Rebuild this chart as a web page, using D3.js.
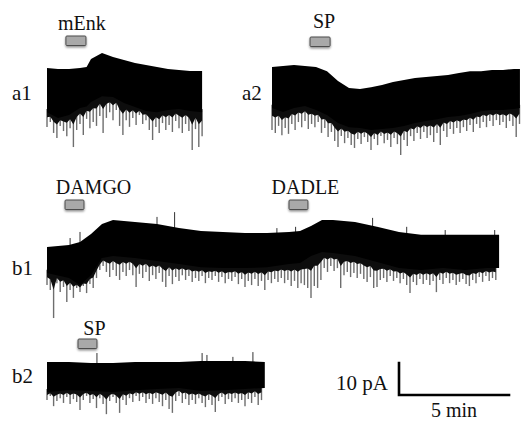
<!DOCTYPE html>
<html>
<head>
<meta charset="utf-8">
<script src="https://cdn.jsdelivr.net/npm/d3@7"></script>
<style>
  body { margin: 0; background: #fff; }
</style>
</head>
<body>
<svg id="fig" width="524" height="423"></svg>
<script>
// all currents in pA (0 = top of trace at its start), all times in min
let spikeStep = 0.15 // min between sampled spike minima

// a1: mEnk
let a1Time = [0, 0.5, 1, 1.5, 1.8, 2, 2.5, 3, 3.5, 4, 4.5, 5, 5.5, 6, 6.5, 7.05]
let a1Top = [0, -0.3, -0.3, 0, 0.3, 2.8, 4.7, 3.4, 2.5, 1.6, 0.9, 0.3, -0.3, -0.6, -0.9, -0.9]
let a1Low = [-13.8, -15.6, -14.7, -12.5, -12.0, -10.6, -8.8, -9.1, -10.9, -12.2, -13.4, -13.8, -13.1, -12.8, -13.4, -13.8]
let a1Spikes = [-18.4, -16.9, -20.3, -21.9, -18.1, -19.7, -21.3, -18.8, -24.7, -19.4,
  -17.5, -20.9, -15.9, -18.8, -16.9, -18.1, -15.0, -20.3, -15.6, -13.8,
  -16.3, -13.1, -18.1, -20.9, -16.3, -18.4, -15.6, -17.8, -14.7, -17.5,
  -16.3, -19.4, -22.5, -18.4, -20.3, -17.2, -19.4, -17.8, -20.0, -16.6,
  -18.8, -20.3, -17.5, -19.7, -25.6, -19.1, -24.7, -21.3]
let a1Drugs = [{name: 'mEnk', start: 0.86, end: 1.77}]

// a2: SP
let a2Time = [0, 0.5, 1, 1.5, 2, 2.5, 3, 3.5, 4, 4.5, 5, 5.5, 6, 6.5, 7, 7.5, 8, 8.5, 9, 9.5, 10, 10.5, 11, 11.27]
let a2Top = [0, 0.3, 0.6, 0.3, 0, -1.3, -4.4, -6.6, -6.9, -6.3, -5.6, -4.7, -4.1, -3.4, -3.1, -2.8, -2.5, -1.9, -1.3, -1.3, -0.9, -0.9, -0.6, -0.6]
let a2Low = [-12.8, -14.1, -12.8, -12.2, -13.4, -15.0, -17.5, -18.8, -19.1, -19.7, -19.4, -19.1, -18.4, -17.5, -16.9, -16.3, -15.6, -15.3, -14.7, -13.8, -13.4, -13.4, -13.1, -12.8]
let a2Spikes = [-19.7, -20.6, -18.4, -21.3, -19.1, -20.9, -17.8, -19.7, -17.2, -18.8,
  -16.9, -19.4, -17.8, -18.8, -17.2, -20.6, -19.1, -21.9, -20.3, -23.1,
  -25.0, -21.6, -23.8, -22.2, -24.4, -25.3, -22.5, -24.1, -21.9, -23.4,
  -25.9, -22.5, -24.4, -21.6, -23.8, -22.8, -25.0, -22.2, -24.1, -27.5,
  -22.8, -24.7, -21.6, -23.1, -20.6, -22.5, -20.3, -22.2, -21.3, -23.4,
  -20.6, -24.4, -20.0, -21.9, -19.4, -20.9, -19.1, -20.6, -18.8, -20.0,
  -18.1, -20.3, -17.8, -19.1, -17.2, -18.8, -16.9, -18.4, -16.6, -18.1,
  -17.2, -19.1, -16.9, -18.4, -21.9, -17.8]
let a2Drugs = [{name: 'SP', start: 1.73, end: 2.64}]

// b1: DAMGO then DADLE
let b1Time = [0, 1, 1.5, 2, 2.5, 3, 4, 5, 6, 7, 8, 9, 10, 11, 11.5, 12, 12.5, 13, 14, 15, 16, 17, 18, 19, 20, 20.55]
let b1Top = [0, 0.6, 1.6, 4.1, 7.2, 8.4, 7.8, 7.2, 5.9, 5.0, 4.7, 4.4, 4.4, 4.7, 5.0, 6.6, 8.4, 8.4, 7.8, 6.3, 4.7, 3.8, 3.8, 3.8, 3.8, 3.8]
let b1Low = [-8.1, -9.7, -11.9, -8.8, -3.4, -2.8, -3.4, -4.4, -5.3, -6.3, -6.6, -6.6, -6.3, -5.3, -5.0, -2.8, -1.6, -1.9, -2.8, -4.7, -6.6, -7.2, -6.6, -7.2, -6.6, -6.6]
let b1Spikes = [-11.9, -13.4, -22.2, -11.3, -14.1, -12.5, -17.2, -13.4, -15.9, -12.8,
  -14.1, -12.2, -14.4, -11.6, -12.8, -9.7, -7.2, -5.9, -7.8, -9.4,
  -7.2, -9.1, -10.3, -7.8, -9.1, -7.2, -8.8, -12.5, -8.4, -9.7,
  -7.8, -10.6, -8.8, -10.0, -8.1, -10.9, -12.5, -9.1, -11.6, -9.4,
  -10.6, -8.8, -10.3, -9.1, -10.9, -9.7, -10.6, -9.1, -11.3, -9.7,
  -10.3, -9.1, -10.9, -9.4, -11.3, -10.0, -10.6, -9.4, -11.6, -10.0,
  -12.5, -10.6, -11.9, -10.0, -12.2, -10.6, -13.4, -10.3, -11.3, -10.0,
  -10.9, -9.7, -11.3, -10.3, -12.2, -10.6, -12.8, -11.3, -11.9, -12.8,
  -15.9, -12.2, -12.8, -10.3, -6.6, -7.8, -5.9, -7.5, -6.6, -12.8,
  -8.8, -7.8, -9.4, -8.1, -9.7, -8.4, -10.0, -10.9, -9.4, -12.8,
  -12.5, -10.3, -9.7, -10.9, -9.1, -10.6, -9.7, -11.3, -10.0, -11.9,
  -14.4, -10.9, -11.9, -10.0, -11.6, -10.3, -11.9, -10.6, -14.1, -10.3,
  -11.6, -9.7, -11.3, -10.3, -11.9, -10.9, -10.0, -11.6, -12.2, -10.3,
  -11.3, -9.4, -10.9, -9.1, -10.6, -9.7, -10.3]
let b1UpTime = [1.05, 1.5, 5.0, 5.8, 10.45, 11.3, 14.8, 16.35, 18.1, 20.35]
let b1UpPeak = [2.8, 4.7, 9.4, 10.9, 5.9, 6.3, 9.1, 6.3, 5.3, 5.3]
let b1Drugs = [{name: 'DAMGO', start: 0.82, end: 1.68}, {name: 'DADLE', start: 11.0, end: 11.86}]

// b2: SP
let b2Time = [0, 1, 2, 3, 4, 5, 6, 7, 8, 9, 9.9]
let b2Top = [0, 0, -0.3, -0.3, 0, 0, 0, 0.3, 0.3, 0.3, 0]
let b2Low = [-9.4, -8.8, -9.1, -9.4, -8.8, -8.4, -8.1, -9.1, -8.8, -8.4, -8.1]
let b2Spikes = [-11.9, -10.6, -13.8, -12.2, -11.3, -12.8, -10.9, -13.1, -11.6, -12.5,
  -15.0, -11.9, -10.6, -12.8, -11.6, -14.4, -11.3, -13.1, -16.3, -12.2,
  -10.9, -12.8, -15.9, -11.9, -13.4, -11.3, -12.5, -10.6, -12.2, -10.9,
  -12.8, -11.6, -13.1, -11.3, -12.5, -13.8, -11.9, -14.7, -15.9, -12.2,
  -10.6, -12.8, -11.6, -13.4, -11.9, -13.1, -11.3, -12.8, -14.1, -11.9,
  -13.4, -15.6, -12.2, -10.9, -13.1, -11.6, -12.5, -11.3, -12.8, -11.9,
  -13.8, -11.6, -12.8, -10.9, -13.4, -11.9]
let b2UpTime = [2.27, 7.05, 7.27, 8.45, 9.36]
let b2UpPeak = [2.8, 2.8, 2.2, 1.6, 3.1]
let b2Drugs = [{name: 'SP', start: 1.41, end: 2.27}]

// scale bar
let barPA = 10
let barMin = 5

// layout
let pxPerMin = 22
let pxPerPA = 3.2
let serif = "'Liberation Serif', 'DejaVu Serif', 'Times New Roman', serif"

let traces = [
  {label: 'a1', x0: 47, y0: 68, time: a1Time, top: a1Top, low: a1Low, spikes: a1Spikes, upT: [], upV: [],
   drugs: a1Drugs, labelX: 12, labelY: 100, barY: 36, textY: 30, textDx: [6]},
  {label: 'a2', x0: 272, y0: 67, time: a2Time, top: a2Top, low: a2Low, spikes: a2Spikes, upT: [], upV: [],
   drugs: a2Drugs, labelX: 242, labelY: 100, barY: 37, textY: 28, textDx: [4]},
  {label: 'b1', x0: 47, y0: 247, time: b1Time, top: b1Top, low: b1Low, spikes: b1Spikes, upT: b1UpTime, upV: b1UpPeak,
   drugs: b1Drugs, labelX: 12, labelY: 275, barY: 200, textY: 194, textDx: [19, 7]},
  {label: 'b2', x0: 47, y0: 362, time: b2Time, top: b2Top, low: b2Low, spikes: b2Spikes, upT: b2UpTime, upV: b2UpPeak,
   drugs: b2Drugs, labelX: 12, labelY: 383, barY: 339, textY: 335, textDx: [7]}
]

let svg = d3.select('#fig')
let defs = svg.append('defs')

let filter = defs.append('filter')
  .attr('id', 'shadow')
  .attr('x', '-40%').attr('y', '-40%').attr('width', '180%').attr('height', '220%')
filter.append('feDropShadow')
  .attr('dx', 0).attr('dy', 1.5)
  .attr('stdDeviation', 1.3)
  .attr('flood-color', '#000')
  .attr('flood-opacity', 0.45)

function addText(x, y, size, anchor, str) {
  return svg.append('text')
    .attr('x', x).attr('y', y)
    .attr('font-family', serif)
    .attr('font-size', size)
    .attr('text-anchor', anchor)
    .attr('fill', '#111')
    .text(str)
}

traces.forEach(tr => {
  let tEnd = tr.time[tr.time.length - 1]
  let x = d3.scaleLinear().domain([0, tEnd]).range([tr.x0, tr.x0 + tEnd * pxPerMin])
  let y = d3.scaleLinear().domain([0, -10]).range([tr.y0, tr.y0 + 10 * pxPerPA])
  let lowAt = d3.scaleLinear().domain(tr.time).range(tr.low)
  let topAt = d3.scaleLinear().domain(tr.time).range(tr.top)
  let spikePts = tr.spikes.map((v, i) => ({t: i * spikeStep, v: v, low: lowAt(i * spikeStep)}))

  let g = svg.append('g').attr('class', 'trace')

  // downward events, grey lines below the band
  g.selectAll('.spike').data(spikePts).enter()
    .append('line')
    .attr('class', 'spike')
    .attr('x1', d => x(d.t)).attr('x2', d => x(d.t))
    .attr('y1', d => y(d.low + 1))
    .attr('y2', d => y(d.v))
    .attr('stroke', '#6e6e6e')
    .attr('stroke-width', 1.4)

  // dense part of the events, merges with the band
  g.append('path')
    .datum(spikePts)
    .attr('d', d3.area().x(d => x(d.t)).y0(d => y(d.low + 0.5)).y1(d => y(d.low + 0.35 * (d.v - d.low))))
    .attr('fill', '#0d0d0d')

  // upward events
  g.selectAll('.up').data(tr.upT).enter()
    .append('line')
    .attr('class', 'up')
    .attr('x1', d => x(d)).attr('x2', d => x(d))
    .attr('y1', d => y(topAt(d) - 1))
    .attr('y2', (d, i) => y(tr.upV[i]))
    .attr('stroke', '#333')
    .attr('stroke-width', 1)

  // dense noise band
  let band = tr.time.map((t, i) => ({t: t, top: tr.top[i], low: tr.low[i]}))
  g.append('path')
    .datum(band)
    .attr('d', d3.area().x(d => x(d.t)).y0(d => y(d.low)).y1(d => y(d.top)))
    .attr('fill', '#000')

  addText(tr.labelX, tr.labelY, 21, 'start', tr.label)

  // drug application bars
  tr.drugs.forEach((dr, k) => {
    svg.append('rect')
      .attr('x', x(dr.start)).attr('y', tr.barY)
      .attr('width', x(dr.end) - x(dr.start)).attr('height', 9.5)
      .attr('rx', 1)
      .attr('fill', '#a9a9a9')
      .attr('stroke', '#4d4d4d')
      .attr('stroke-width', 1)
      .attr('filter', 'url(#shadow)')
    addText((x(dr.start) + x(dr.end)) / 2 + tr.textDx[k], tr.textY, 20, 'middle', dr.name)
  })
})

// scale bar: 10 pA by 5 min
let sx = d3.scaleLinear().domain([0, barMin]).range([399, 399 + barMin * pxPerMin])
let sy = d3.scaleLinear().domain([0, barPA]).range([395, 395 - barPA * pxPerPA])
svg.append('path')
  .attr('d', `M${sx(0)},${sy(barPA)}V${sy(0)}H${sx(barMin)}`)
  .attr('fill', 'none')
  .attr('stroke', '#000')
  .attr('stroke-width', 2.6)
  .attr('stroke-linecap', 'square')
addText(sx(0) - 11, 390, 21, 'end', barPA + ' pA')
addText((sx(0) + sx(barMin)) / 2, 417, 20, 'middle', barMin + ' min')
</script>
</body>
</html>
